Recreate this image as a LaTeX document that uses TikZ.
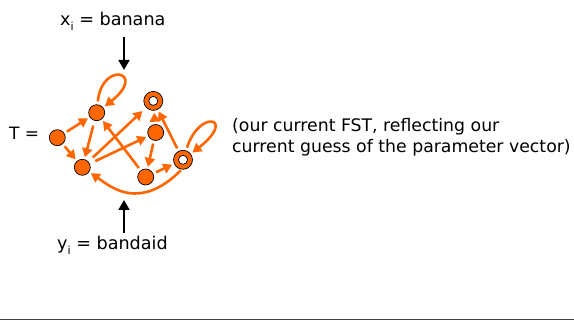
\documentclass[tikz,border=0pt]{standalone}
\usepackage{fontspec}
\setmainfont{DejaVu Sans}
\usetikzlibrary{arrows.meta}
\definecolor{fstorange}{RGB}{255,102,0}
\definecolor{rulegray}{RGB}{64,64,64}
% small lowered "i" used as a subscript in running text
\newcommand{\lowi}{\raisebox{-0.5ex}{\fontsize{11}{11}\selectfont i}}

\begin{document}
\begin{tikzpicture}[x=1pt,y=-1pt,
  state/.style={circle,draw=black,line width=0.7pt,fill=fstorange,
    minimum size=16pt,inner sep=0pt},
  finalstate/.style={state,minimum size=19pt,
    path picture={\draw[black,line width=0.7pt,fill=white]
      (path picture bounding box.center) circle (4.5pt);}},
  trans/.style={draw=fstorange,line width=2.6pt,
    -{Triangle[length=9pt,width=10pt]},shorten >=2pt,shorten <=3pt},
  feed/.style={draw=black,line width=1.8pt,-{Triangle[length=10pt,width=11pt]}},
  txt/.style={font=\fontsize{17.6}{21}\selectfont,inner sep=0pt,anchor=base west}
]
\useasboundingbox (0,0) rectangle (574,320);

% rule along the bottom edge
\draw[rulegray,line width=1.2pt] (0,319.2) -- (574,319.2);

% states of the transducer
\node[state] (A) at (57.3,137.7) {};
\node[state] (B) at (96.7,112.7) {};
\node[state] (C) at (82.3,167.3) {};
\node[finalstate] (D) at (153.3,100.9) {};
\node[state] (E) at (155.7,132.5) {};
\node[state] (F) at (145.7,177) {};
\node[finalstate] (G) at (183,159.8) {};

% transitions
\draw[trans] (A) -- (B);
\draw[trans] (A) -- (C);
\draw[trans,shorten <=5pt] (B) -- (C);
\draw[trans,shorten <=6pt,shorten >=5pt] (C) -- (D);
\draw[trans,shorten <=6pt] (C) -- (E);
\draw[trans] (F) -- (B);
\draw[trans] (E) -- (D);
\draw[trans] (E) -- (F);
\draw[trans] (F) -- (G);
\draw[trans] (G) -- (D);
\draw[trans] (B) .. controls (102,60) and (148,72) .. (B);
\draw[trans] (G) .. controls (200,108) and (237,118) .. (G);
\draw[trans,shorten <=1pt] (G.262) .. controls (165,186) and (150,193.5) .. (135,193.5)
  .. controls (119,193.5) and (108,185) .. (C);

% labels
\node[txt,font=\fontsize{17}{17}\selectfont] (tname) at (9,140) {T =};
\node[txt] (xin) at (60,26) {x\lowi{} = banana};
\node[txt] (yout) at (57,250) {y\lowi{} = bandaid};
\node[txt,align=left,font=\fontsize{17.3}{21}\selectfont] (note) at (232,152.7)
  {(our current FST, reflecting our\\current guess of the parameter vector)};

% input and output arrows
\coordinate (xtail) at (124,37);
\coordinate (xtip) at (124,70);
\draw[feed] (xtail) -- (xtip);
\coordinate (ytail) at (124,233);
\coordinate (ytip) at (124,200);
\draw[feed] (ytail) -- (ytip);
\end{tikzpicture}
\end{document}
